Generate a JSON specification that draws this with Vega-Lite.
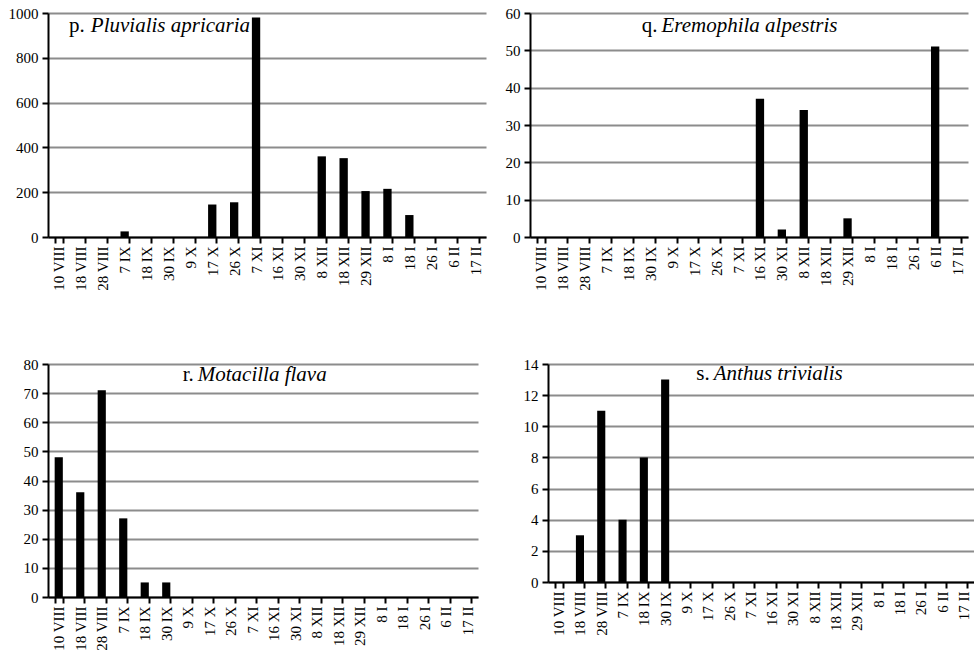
{
  "$schema": "https://vega.github.io/schema/vega-lite/v6.json",
  "padding": {"left": 8, "top": 6, "right": 0, "bottom": 0},
  "background": "white",
  "config": {
    "font": "Liberation Serif",
    "view": {"stroke": null},
    "axis": {"labelFont": "Liberation Serif", "labelFontSize": 15, "labelColor": "black", "labelOverlap": false},
    "axisX": {"domainColor": "black", "domainWidth": 2, "tickColor": "black", "tickWidth": 2, "tickSize": 6, "tickBand": "extent", "labelAngle": 270, "labelPadding": 3, "grid": false, "labelBound": false},
    "axisY": {"domainColor": "black", "domainWidth": 2, "tickColor": "black", "tickWidth": 2, "tickSize": 6, "gridColor": "#8c8c8c", "gridWidth": 2, "gridOpacity": 1, "labelPadding": 4, "format": "d"},
    "text": {"font": "Liberation Serif", "fontSize": 21, "color": "black", "fontWeight": "normal"}
  },
  "datasets": {
    "p": [
      {"date": "10 VIII", "count": 0}, {"date": "18 VIII", "count": 0}, {"date": "28 VIII", "count": 0}, {"date": "7 IX", "count": 25},
      {"date": "18 IX", "count": 0}, {"date": "30 IX", "count": 0}, {"date": "9 X", "count": 0}, {"date": "17 X", "count": 145},
      {"date": "26 X", "count": 155}, {"date": "7 XI", "count": 980}, {"date": "16 XI", "count": 0}, {"date": "30 XI", "count": 0},
      {"date": "8 XII", "count": 360}, {"date": "18 XII", "count": 352}, {"date": "29 XII", "count": 205}, {"date": "8 I", "count": 215},
      {"date": "18 I", "count": 98}, {"date": "26 I", "count": 0}, {"date": "6 II", "count": 0}, {"date": "17 II", "count": 0}
    ],
    "q": [
      {"date": "10 VIII", "count": 0}, {"date": "18 VIII", "count": 0}, {"date": "28 VIII", "count": 0}, {"date": "7 IX", "count": 0},
      {"date": "18 IX", "count": 0}, {"date": "30 IX", "count": 0}, {"date": "9 X", "count": 0}, {"date": "17 X", "count": 0},
      {"date": "26 X", "count": 0}, {"date": "7 XI", "count": 0}, {"date": "16 XI", "count": 37}, {"date": "30 XI", "count": 2},
      {"date": "8 XII", "count": 34}, {"date": "18 XII", "count": 0}, {"date": "29 XII", "count": 5}, {"date": "8 I", "count": 0},
      {"date": "18 I", "count": 0}, {"date": "26 I", "count": 0}, {"date": "6 II", "count": 51}, {"date": "17 II", "count": 0}
    ],
    "r": [
      {"date": "10 VIII", "count": 48}, {"date": "18 VIII", "count": 36}, {"date": "28 VIII", "count": 71}, {"date": "7 IX", "count": 27},
      {"date": "18 IX", "count": 5}, {"date": "30 IX", "count": 5}, {"date": "9 X", "count": 0}, {"date": "17 X", "count": 0},
      {"date": "26 X", "count": 0}, {"date": "7 XI", "count": 0}, {"date": "16 XI", "count": 0}, {"date": "30 XI", "count": 0},
      {"date": "8 XII", "count": 0}, {"date": "18 XII", "count": 0}, {"date": "29 XII", "count": 0}, {"date": "8 I", "count": 0},
      {"date": "18 I", "count": 0}, {"date": "26 I", "count": 0}, {"date": "6 II", "count": 0}, {"date": "17 II", "count": 0}
    ],
    "s": [
      {"date": "10 VIII", "count": 0}, {"date": "18 VIII", "count": 3}, {"date": "28 VIII", "count": 11}, {"date": "7 IX", "count": 4},
      {"date": "18 IX", "count": 8}, {"date": "30 IX", "count": 13}, {"date": "9 X", "count": 0}, {"date": "17 X", "count": 0},
      {"date": "26 X", "count": 0}, {"date": "7 XI", "count": 0}, {"date": "16 XI", "count": 0}, {"date": "30 XI", "count": 0},
      {"date": "8 XII", "count": 0}, {"date": "18 XII", "count": 0}, {"date": "29 XII", "count": 0}, {"date": "8 I", "count": 0},
      {"date": "18 I", "count": 0}, {"date": "26 I", "count": 0}, {"date": "6 II", "count": 0}, {"date": "17 II", "count": 0}
    ]
  },
  "columns": 1,
  "align": "none",
  "spacing": 66,
  "concat": [
    {
      "spacing": 19,
      "hconcat": [
        {
          "width": 438, "height": 224,
          "layer": [
            {"data": {"name": "p"}, "mark": {"type": "bar", "color": "black"},
             "encoding": {
               "x": {"field": "date", "type": "nominal", "sort": null, "title": null, "scale": {"paddingInner": 0.62, "paddingOuter": 0.31}, "axis": {"labelFont": "Liberation Serif", "labelFontSize": 15, "labelAngle": 270, "labelOverlap": false}},
               "y": {"field": "count", "type": "quantitative", "title": null, "scale": {"domain": [0, 1000], "nice": false}, "axis": {"values": [0, 200, 400, 600, 800, 1000], "labelFont": "Liberation Serif", "labelFontSize": 15, "labelOverlap": false, "format": "d"}}
             }},
            {"data": {"values": [{"label": "p."}]}, "mark": {"type": "text", "align": "right", "baseline": "alphabetic", "dx": 4},
             "encoding": {"x": {"datum": "18 VIII", "title": null, "axis": {"labelFont": "Liberation Serif", "labelFontSize": 15, "labelAngle": 270, "labelOverlap": false}}, "y": {"datum": 915, "title": null, "axis": {"values": [0, 200, 400, 600, 800, 1000], "labelFont": "Liberation Serif", "labelFontSize": 15, "labelOverlap": false, "format": "d"}}, "text": {"field": "label"}}},
            {"data": {"values": [{"label": "Pluvialis  apricaria"}]}, "mark": {"type": "text", "align": "left", "baseline": "alphabetic", "fontStyle": "italic", "dx": 10},
             "encoding": {"x": {"datum": "18 VIII", "title": null, "axis": {"labelFont": "Liberation Serif", "labelFontSize": 15, "labelAngle": 270, "labelOverlap": false}}, "y": {"datum": 915, "title": null, "axis": {"values": [0, 200, 400, 600, 800, 1000], "labelFont": "Liberation Serif", "labelFontSize": 15, "labelOverlap": false, "format": "d"}}, "text": {"field": "label"}}}
          ]
        },
        {
          "width": 438, "height": 224,
          "layer": [
            {"data": {"name": "q"}, "mark": {"type": "bar", "color": "black"},
             "encoding": {
               "x": {"field": "date", "type": "nominal", "sort": null, "title": null, "scale": {"paddingInner": 0.62, "paddingOuter": 0.31}, "axis": {"labelFont": "Liberation Serif", "labelFontSize": 15, "labelAngle": 270, "labelOverlap": false}},
               "y": {"field": "count", "type": "quantitative", "title": null, "scale": {"domain": [0, 60], "nice": false}, "axis": {"values": [0, 10, 20, 30, 40, 50, 60], "labelFont": "Liberation Serif", "labelFontSize": 15, "labelOverlap": false, "format": "d"}}
             }},
            {"data": {"values": [{"label": "q."}]}, "mark": {"type": "text", "align": "right", "baseline": "alphabetic", "dx": 7},
             "encoding": {"x": {"datum": "30 IX", "title": null, "axis": {"labelFont": "Liberation Serif", "labelFontSize": 15, "labelAngle": 270, "labelOverlap": false}}, "y": {"datum": 55, "title": null, "axis": {"values": [0, 10, 20, 30, 40, 50, 60], "labelFont": "Liberation Serif", "labelFontSize": 15, "labelOverlap": false, "format": "d"}}, "text": {"field": "label"}}},
            {"data": {"values": [{"label": "Eremophila  alpestris"}]}, "mark": {"type": "text", "align": "left", "baseline": "alphabetic", "fontStyle": "italic", "dx": 11},
             "encoding": {"x": {"datum": "30 IX", "title": null, "axis": {"labelFont": "Liberation Serif", "labelFontSize": 15, "labelAngle": 270, "labelOverlap": false}}, "y": {"datum": 55, "title": null, "axis": {"values": [0, 10, 20, 30, 40, 50, 60], "labelFont": "Liberation Serif", "labelFontSize": 15, "labelOverlap": false, "format": "d"}}, "text": {"field": "label"}}}
          ]
        }
      ]
    },
    {
      "spacing": 45,
      "hconcat": [
        {
          "width": 430, "height": 233,
          "layer": [
            {"data": {"name": "r"}, "mark": {"type": "bar", "color": "black"},
             "encoding": {
               "x": {"field": "date", "type": "nominal", "sort": null, "title": null, "scale": {"paddingInner": 0.62, "paddingOuter": 0.31}, "axis": {"labelFont": "Liberation Serif", "labelFontSize": 15, "labelAngle": 270, "labelOverlap": false}},
               "y": {"field": "count", "type": "quantitative", "title": null, "scale": {"domain": [0, 80], "nice": false}, "axis": {"values": [0, 10, 20, 30, 40, 50, 60, 70, 80], "labelFont": "Liberation Serif", "labelFontSize": 15, "labelOverlap": false, "format": "d"}}
             }},
            {"data": {"values": [{"label": "r."}]}, "mark": {"type": "text", "align": "right", "baseline": "alphabetic", "dx": 6},
             "encoding": {"x": {"datum": "9 X", "title": null, "axis": {"labelFont": "Liberation Serif", "labelFontSize": 15, "labelAngle": 270, "labelOverlap": false}}, "y": {"datum": 74, "title": null, "axis": {"values": [0, 10, 20, 30, 40, 50, 60, 70, 80], "labelFont": "Liberation Serif", "labelFontSize": 15, "labelOverlap": false, "format": "d"}}, "text": {"field": "label"}}},
            {"data": {"values": [{"label": "Motacilla  flava"}]}, "mark": {"type": "text", "align": "left", "baseline": "alphabetic", "fontStyle": "italic", "dx": 10},
             "encoding": {"x": {"datum": "9 X", "title": null, "axis": {"labelFont": "Liberation Serif", "labelFontSize": 15, "labelAngle": 270, "labelOverlap": false}}, "y": {"datum": 74, "title": null, "axis": {"values": [0, 10, 20, 30, 40, 50, 60, 70, 80], "labelFont": "Liberation Serif", "labelFontSize": 15, "labelOverlap": false, "format": "d"}}, "text": {"field": "label"}}}
          ]
        },
        {
          "width": 426, "height": 218,
          "layer": [
            {"data": {"name": "s"}, "mark": {"type": "bar", "color": "black"},
             "encoding": {
               "x": {"field": "date", "type": "nominal", "sort": null, "title": null, "scale": {"paddingInner": 0.62, "paddingOuter": 0.31}, "axis": {"labelFont": "Liberation Serif", "labelFontSize": 15, "labelAngle": 270, "labelOverlap": false}},
               "y": {"field": "count", "type": "quantitative", "title": null, "scale": {"domain": [0, 14], "nice": false}, "axis": {"values": [0, 2, 4, 6, 8, 10, 12, 14], "labelFont": "Liberation Serif", "labelFontSize": 15, "labelOverlap": false, "format": "d"}}
             }},
            {"data": {"values": [{"label": "s."}]}, "mark": {"type": "text", "align": "right", "baseline": "alphabetic", "dx": 2},
             "encoding": {"x": {"datum": "17 X", "title": null, "axis": {"labelFont": "Liberation Serif", "labelFontSize": 15, "labelAngle": 270, "labelOverlap": false}}, "y": {"datum": 13, "title": null, "axis": {"values": [0, 2, 4, 6, 8, 10, 12, 14], "labelFont": "Liberation Serif", "labelFontSize": 15, "labelOverlap": false, "format": "d"}}, "text": {"field": "label"}}},
            {"data": {"values": [{"label": "Anthus trivialis"}]}, "mark": {"type": "text", "align": "left", "baseline": "alphabetic", "fontStyle": "italic", "dx": 6},
             "encoding": {"x": {"datum": "17 X", "title": null, "axis": {"labelFont": "Liberation Serif", "labelFontSize": 15, "labelAngle": 270, "labelOverlap": false}}, "y": {"datum": 13, "title": null, "axis": {"values": [0, 2, 4, 6, 8, 10, 12, 14], "labelFont": "Liberation Serif", "labelFontSize": 15, "labelOverlap": false, "format": "d"}}, "text": {"field": "label"}}}
          ]
        }
      ]
    }
  ]
}
